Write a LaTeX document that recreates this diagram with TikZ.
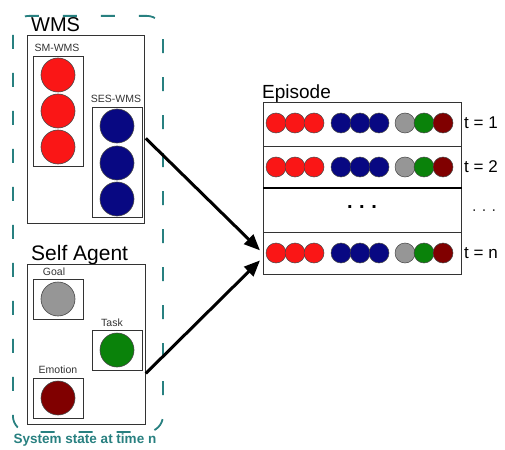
\documentclass[tikz,border=0pt]{standalone}
\usepackage{fontspec}
\setmainfont{Liberation Sans}
\usetikzlibrary{arrows.meta}
\definecolor{cred}{RGB}{250,22,22}
\definecolor{cblue}{RGB}{8,8,130}
\definecolor{cgrey}{RGB}{150,150,150}
\definecolor{cgreen}{RGB}{10,130,10}
\definecolor{cdred}{RGB}{128,0,0}
\definecolor{cteal}{RGB}{40,128,128}
\definecolor{cedge}{RGB}{70,70,70}
\tikzset{
  boxst/.style={draw=black!80, line width=0.8pt, inner sep=0pt, anchor=north west},
  bigball/.style={circle, draw=cedge, line width=0.6pt, minimum size=34pt, inner sep=0pt},
  smallball/.style={circle, draw=cedge, line width=0.5pt, minimum size=20pt, inner sep=0pt},
  biglbl/.style={font=\fontsize{20}{20}\selectfont, inner sep=0pt, anchor=base west},
  smlbl/.style={font=\fontsize{10.5}{10.5}\selectfont, inner sep=0pt, text=black!80},
  tlbl/.style={font=\fontsize{17}{17}\selectfont, inner sep=0pt, anchor=west},
  bigarrow/.style={line width=3pt, -{Triangle[length=16pt,width=13pt]}},
}
\begin{document}
\begin{tikzpicture}[x=1pt,y=-1pt]
\useasboundingbox (0,0) rectangle (505,449);
% outer dashed system box
\node[draw=cteal, line width=1.8pt, dash pattern=on 14pt off 24pt, dash phase=6pt, rounded corners=16pt,
      minimum width=150pt, minimum height=416pt, inner sep=0pt, anchor=north west] (sys) at (12,15) {};
\node[font=\fontsize{13.5}{13.5}\selectfont\bfseries, text=cteal, inner sep=0pt, anchor=base] (syslbl) at (85,443) {System state at time n};

% WMS
\node[biglbl] (wmslbl) at (31,32) {WMS};
\node[boxst, minimum width=117pt, minimum height=188pt] (wms) at (27,35) {};
\node[smlbl] (smlbl) at (57,48) {SM-WMS};
\node[boxst, minimum width=50pt, minimum height=110pt] (sm) at (33,56) {};
\node[bigball, fill=cred] (sm1) at (58,75) {};
\node[bigball, fill=cred] (sm2) at (58,111) {};
\node[bigball, fill=cred] (sm3) at (58,147) {};
\node[smlbl] (seslbl) at (116,99) {SES-WMS};
\node[boxst, minimum width=50pt, minimum height=110pt] (ses) at (92,107) {};
\node[bigball, fill=cblue] (ses1) at (117,126) {};
\node[bigball, fill=cblue] (ses2) at (117,163) {};
\node[bigball, fill=cblue] (ses3) at (117,199) {};

% Self agent
\node[biglbl, font=\fontsize{21}{21}\selectfont] (selflbl) at (31,260) {Self Agent};
\node[boxst, minimum width=118pt, minimum height=160pt] (self) at (27,264) {};
\node[smlbl] (goallbl) at (54,272) {Goal};
\node[boxst, minimum width=50pt, minimum height=40pt] (goal) at (33,279) {};
\node[bigball, fill=cgrey] (goalb) at (58,299) {};
\node[smlbl] (tasklbl) at (112,323) {Task};
\node[boxst, minimum width=50pt, minimum height=40pt] (task) at (92,330) {};
\node[bigball, fill=cgreen] (taskb) at (117,350) {};
\node[smlbl] (emolbl) at (58,370) {Emotion};
\node[boxst, minimum width=50pt, minimum height=40pt] (emo) at (33,378) {};
\node[bigball, fill=cdred] (emob) at (58,398) {};

% Episode
\node[biglbl, font=\fontsize{19}{19}\selectfont] (epilbl) at (262,99) {Episode};
\node[boxst, minimum width=198pt, minimum height=44pt] (row1) at (263,102) {};
\node[boxst, minimum width=198pt, minimum height=42pt] (row2) at (263,146) {};
\node[boxst, minimum width=198pt, minimum height=44pt] (row3) at (263,188) {};
\node[boxst, minimum width=198pt, minimum height=42pt] (rown) at (263,232) {};
\draw[line width=1.6pt, black] (row3.north west) -- (row3.north east);

\foreach \r/\y in {1/123, 2/167, n/253}{
  \foreach \i/\x/\c in {1/276/cred, 2/295/cred, 3/314/cred, 4/341/cblue, 5/360/cblue, 6/379/cblue, 7/405/cgrey, 8/424/cgreen, 9/443/cdred}{
    \node[smallball, fill=\c] (e\r-\i) at (\x,\y) {};
  }
}
\node[font=\fontsize{20}{20}\selectfont\bfseries, inner sep=0pt] (dotsin) at (362,207) {.\,\,.\,\,.};
\node[font=\fontsize{16}{16}\selectfont, inner sep=0pt, text=black!80] (dotsout) at (484,211) {.\,\,.\,\,.};
\node[tlbl] (t1) at (464,123) {t = 1};
\node[tlbl] (t2) at (464,167) {t = 2};
\node[tlbl] (tn) at (464,253) {t = n};

% arrows
\draw[bigarrow] ([xshift=1pt,yshift=-9pt]wms.east) -- ([xshift=-3pt,yshift=3pt]rown.west);
\draw[bigarrow] ([yshift=-29pt]self.east) -- ([xshift=-3pt,yshift=-7pt]rown.west);
\end{tikzpicture}
\end{document}
